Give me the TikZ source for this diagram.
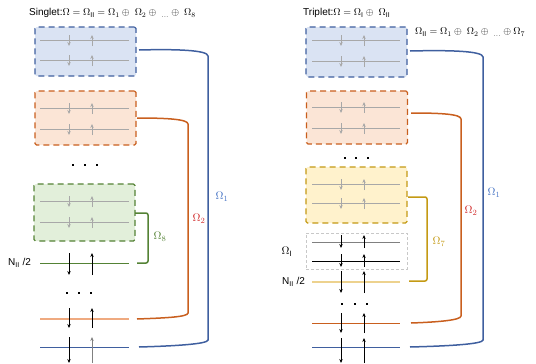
\documentclass[tikz,border=0pt]{standalone}
\usepackage{fontspec}
\setmainfont{Liberation Sans}
\usetikzlibrary{arrows.meta}
\definecolor{bblue}{HTML}{3F5F9F}
\definecolor{fblue}{HTML}{DAE3F3}
\definecolor{borange}{HTML}{C95F1E}
\definecolor{forange}{HTML}{FBE5D6}
\definecolor{lorange}{HTML}{EFAA80}
\definecolor{bgreen}{HTML}{548235}
\definecolor{fgreen}{HTML}{E2EFDA}
\definecolor{byellow}{HTML}{C49A14}
\definecolor{fyellow}{HTML}{FFF2CC}
\definecolor{lyellow}{HTML}{EDD28E}
\definecolor{lblue}{HTML}{4472C4}
\definecolor{lred}{HTML}{D02828}
\definecolor{lgray}{HTML}{A8A8A8}
\definecolor{dgray}{HTML}{C8C8C8}
\newcommand\spinpair[6]{%
  \draw[spinarrow,#6] (#1,#3) -- (#1,#4);
  \draw[spinarrow,#6] (#2,#4) -- (#2,#3);}
\begin{document}
\begin{tikzpicture}[x=1pt,y=-1pt,
  bx/.style={draw, dashed, dash pattern=on 6pt off 4pt, line width=1.4pt, rounded corners=1.5pt, inner sep=0pt, minimum width=101pt},
  gbox/.style={draw=dgray, dashed, dash pattern=on 3pt off 2pt, line width=1pt, inner sep=0pt, minimum width=101pt},
  spinarrow/.style={line width=0.7pt, -{Stealth[length=4pt,width=3.4pt]}},
  lvl/.style={line width=0.9pt},
  brk/.style={line width=1.5pt, rounded corners=2pt},
  lab/.style={font=\fontsize{11}{12}\selectfont, inner sep=0pt},
  txt/.style={font=\fontsize{10}{11}\selectfont, inner sep=0pt, anchor=west},
  dotsq/.style={fill=black, minimum size=2.6pt, inner sep=0pt, draw=none}]
\useasboundingbox (0,0) rectangle (536,364);

% ===================== LEFT: Singlet =====================
\node[txt] (t1) at (29,13) {Singlet:$\Omega=\Omega_{\mathrm{II}}=\Omega_1\oplus\ \Omega_2\oplus\ _{\ldots}\oplus\ \Omega_8$};

\node[bx, draw=bblue, fill=fblue, minimum height=49pt] (b1) at (85.5,51.5) {};
\node[bx, draw=borange, fill=forange, minimum height=54pt] (b2) at (85.5,118) {};
\node[bx, draw=bgreen, fill=fgreen, minimum height=57pt] (b3) at (84.5,212.5) {};

\foreach \yy in {40,60,108,129,201,222}{
  \draw[lgray, line width=0.9pt] (40,\yy) -- (129,\yy);
  \spinpair{69}{92}{\yy-5}{\yy+6}{}{lgray}
}

\foreach \xx/\yy [count=\i] in {73/165,85/165,97/165,67/293,79/293,91/293}
  \node[dotsq] (ld\i) at (\xx,\yy) {};

\coordinate (lg1) at (40,263); \coordinate (lg2) at (129,263);
\coordinate (lo1) at (40,319); \coordinate (lo2) at (129,319);
\coordinate (lb1) at (40,347); \coordinate (lb2) at (129,347);
\draw[lvl, bgreen] (lg1) -- (lg2);
\draw[lorange, line width=1.6pt] (lo1) -- (lo2);
\draw[lvl, bblue] (lb1) -- (lb2);
\spinpair{69}{92}{253}{275}{}{black}
\spinpair{69}{92}{308}{328}{}{black}
\draw[spinarrow,black] (69,337) -- (69,363);
\draw[spinarrow,gray] (92,363) -- (92,337);

\node[txt] (nl) at (8,263) {N$_{\mathrm{II}}$ /2};

% brackets
\coordinate (gs) at (135,213); \coordinate (ge) at (137,263);
\draw[brk, bgreen] (gs) -- (148,213) -- (148,263) -- (ge);
\coordinate (os) at (137,118); \coordinate (oe) at (137,319);
\draw[line width=1.5pt, borange] (os) .. controls (165,118) and (188,119) .. (188,124) -- (188,313) .. controls (188,317) and (165,318) .. (oe);
\coordinate (bs) at (139,50); \coordinate (be) at (139,347);
\draw[line width=1.5pt, bblue] (bs) .. controls (175,49) and (208,50) .. (208,56) -- (208,340) .. controls (208,344) and (175,346) .. (be);

\node[lab, text=bgreen] (l8) at (160,237) {$\Omega_8$};
\node[lab, text=lred] (l2) at (199,219) {$\Omega_2$};
\node[lab, text=lblue] (l1) at (222,197) {$\Omega_1$};

% ===================== RIGHT: Triplet =====================
\node[txt] (t2) at (303,13) {Triplet:$\Omega=\Omega_{\mathrm{I}}\oplus\ \Omega_{\mathrm{II}}$};
\node[txt] (t3) at (415,32) {$\Omega_{\mathrm{II}}=\Omega_1\oplus\ \Omega_2\oplus\ _{\ldots}\oplus\Omega_7$};

\node[bx, draw=bblue, fill=fblue, minimum height=50pt] (c1) at (356.5,52) {};
\node[bx, draw=borange, fill=forange, minimum height=53pt] (c2) at (357,117.5) {};
\node[bx, draw=byellow, fill=fyellow, minimum height=56pt] (c3) at (356.5,195) {};
\node[gbox, minimum height=36pt] (c4) at (356.5,251) {};

\foreach \yy in {40,61,107,128,184,203}{
  \draw[lgray, line width=0.9pt] (312,\yy) -- (400,\yy);
  \spinpair{341}{364}{\yy-5}{\yy+6}{}{lgray}
}

\draw[gray, line width=1pt] (312,242) -- (400,242);
\draw[black, line width=0.8pt] (312,261) -- (400,261);
\spinpair{341}{364}{235}{248}{}{black}
\spinpair{341}{364}{254}{267}{}{black}

\foreach \xx/\yy [count=\i] in {345/158,356/158,368/158,342/304,355/304,367/304}
  \node[dotsq] (rd\i) at (\xx,\yy) {};

\coordinate (ry1) at (312,282); \coordinate (ry2) at (400,282);
\coordinate (ro1) at (312,323); \coordinate (ro2) at (400,323);
\coordinate (rb1) at (312,347); \coordinate (rb2) at (400,347);
\draw[lyellow, line width=1.6pt] (ry1) -- (ry2);
\draw[lvl, borange] (ro1) -- (ro2);
\draw[lvl, bblue] (rb1) -- (rb2);
\spinpair{341}{364}{271}{293}{}{black}
\spinpair{341}{364}{313}{333}{}{black}
\spinpair{341}{364}{338}{363}{}{black}

\node[txt] (nr) at (282,282) {N$_{\mathrm{II}}$ /2};
\node[lab] (lI) at (287,252) {$\Omega_{\mathrm{I}}$};

% brackets
\coordinate (ys) at (408,197); \coordinate (ye) at (409,281);
\draw[brk, byellow] (ys) -- (427,197) -- (427,281) -- (ye);
\coordinate (ros) at (411,113); \coordinate (roe) at (411,323);
\draw[line width=1.5pt, borange] (ros) .. controls (440,113) and (461,114) .. (461,119) -- (461,316) .. controls (461,320) and (440,322) .. (roe);
\coordinate (rbs) at (410,51); \coordinate (rbe) at (410,347);
\draw[line width=1.5pt, bblue] (rbs) .. controls (450,50) and (483,51) .. (483,57) -- (483,340) .. controls (483,344) and (450,346) .. (rbe);

\node[lab, text=byellow] (r7) at (439,242) {$\Omega_7$};
\node[lab, text=lred] (r2) at (471,211) {$\Omega_2$};
\node[lab, text=lblue] (r1) at (494,193) {$\Omega_1$};
\end{tikzpicture}
\end{document}
